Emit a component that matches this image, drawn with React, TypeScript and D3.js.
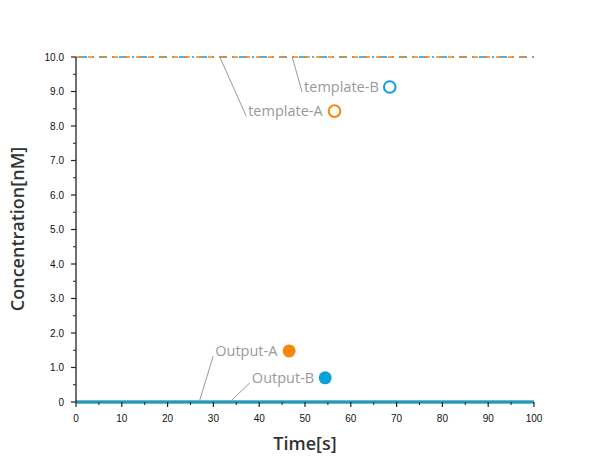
import React from 'react';
import * as d3 from 'd3';

// time points (s) and concentrations (nM)
const times = [0, 10, 20, 30, 40, 50, 60, 70, 80, 90, 100];
const templateA = [10, 10, 10, 10, 10, 10, 10, 10, 10, 10, 10];
const templateB = [10, 10, 10, 10, 10, 10, 10, 10, 10, 10, 10];
const outputA = [0, 0, 0, 0, 0, 0, 0, 0, 0, 0, 0];
const outputB = [0, 0, 0, 0, 0, 0, 0, 0, 0, 0, 0];

const xTicks = [0, 10, 20, 30, 40, 50, 60, 70, 80, 90, 100];
const yTicks = [0, 1, 2, 3, 4, 5, 6, 7, 8, 9, 10];

const ORANGE = '#f7850f';
const BLUE = '#0aa0d8';

const margin = { top: 57, right: 76, bottom: 58, left: 76 };
const width = 610 - margin.left - margin.right;
const height = 460 - margin.top - margin.bottom;

const x = d3.scaleLinear().domain([0, 100]).range([0, width]);
const y = d3.scaleLinear().domain([0, 10]).range([height, 0]);

const line = (vals: number[]) =>
  d3.line<number>().x((d, i) => x(times[i])).y(d => y(d))(vals) || '';

// labels: anchor on the curve (t, value), text position, marker
const labels = [
  { name: 'template-A', color: ORANGE, filled: false, at: [31.4, 10], tx: 37.6, ty: 8.43 },
  { name: 'template-B', color: BLUE, filled: false, at: [47.2, 10], tx: 49.8, ty: 9.13 },
  { name: 'Output-A', color: ORANGE, filled: true, at: [26.9, 0], tx: 30.4, ty: 1.48 },
  { name: 'Output-B', color: BLUE, filled: true, at: [33.6, 0], tx: 38.4, ty: 0.7 },
];

const labelFont = '"Open Sans", "Noto Sans", sans-serif';
const tickFont = '"Liberation Sans", Arial, sans-serif';

export default function App() {
  const minorX = d3.range(5, 100, 10);
  const minorY = d3.range(0.5, 10, 1);
  return (
    <svg width={610} height={460} style={{ position: 'absolute', left: 0, top: 0 }}>
      <g transform={`translate(${margin.left},${margin.top})`}>
        {/* series */}
        <path d={line(templateB)} fill="none" stroke={BLUE} strokeWidth={1.3} strokeDasharray="8,5,2,5" strokeDashoffset={-3} />
        <path d={line(templateA)} fill="none" stroke={ORANGE} strokeWidth={1.3} strokeDasharray="6,6" />
        <path d={line(outputA)} fill="none" stroke={ORANGE} strokeWidth={3} />
        <path d={line(outputB)} fill="none" stroke={BLUE} strokeWidth={3.2} />

        {/* y axis */}
        <line x1={0} x2={0} y1={0} y2={height} stroke="#222" strokeWidth={1.3} />
        {yTicks.map(t => (
          <g key={t} transform={`translate(0,${y(t)})`}>
            <line x1={-5} x2={0} stroke="#222" strokeWidth={1.2} />
            <text x={-12} dy="0.35em" textAnchor="end" fontSize={10} fontFamily={tickFont} fill="#111">
              {t === 0 ? '0' : t.toFixed(1)}
            </text>
          </g>
        ))}
        {minorY.map(t => (
          <line key={t} x1={-3} x2={0} y1={y(t)} y2={y(t)} stroke="#222" strokeWidth={1} />
        ))}

        {/* x axis */}
        {xTicks.map(t => (
          <g key={t} transform={`translate(${x(t)},${height})`}>
            <line y1={0} y2={5} stroke="#222" strokeWidth={1.2} />
            <text y={20} textAnchor="middle" fontSize={10} fontFamily={tickFont} fill="#111">{t}</text>
          </g>
        ))}
        {minorX.map(t => (
          <line key={t} x1={x(t)} x2={x(t)} y1={height} y2={height + 3} stroke="#222" strokeWidth={1} />
        ))}

        {/* labels */}
        {labels.map(l => {
          const ax = x(l.at[0]), ay = y(l.at[1]);
          const lx = x(l.tx), ly = y(l.ty);
          return (
            <g key={l.name}>
              <line x1={ax} y1={ay} x2={lx - 2} y2={ly + 5} stroke="#999" strokeWidth={1} />
              <text className="lbl" x={lx} y={ly} dy="0.35em" fontSize={14.5} fontFamily={labelFont} fill="#999">{l.name}</text>
            </g>
          );
        })}
      </g>
      <Markers />
      <text x={305} y={450} textAnchor="middle" fontSize={18} fontWeight={600} fontFamily={labelFont} fill="#333">Time[s]</text>
      <text transform="translate(24,229) rotate(-90)" textAnchor="middle" fontSize={18} fontWeight={600} fontFamily={labelFont} fill="#333">Concentration[nM]</text>
    </svg>
  );
}

// markers placed right after each label text
function Markers() {
  const ref = React.useRef<SVGGElement>(null);
  React.useEffect(() => {
    const g = d3.select(ref.current);
    g.selectAll('*').remove();
    const svg = ref.current!.ownerSVGElement!;
    const texts = Array.from(svg.querySelectorAll('text.lbl')) as SVGTextElement[];
    texts.forEach(t => {
      const l = labels.find(d => d.name === t.textContent)!;
      const b = t.getBBox();
      g.append('circle')
        .attr('cx', margin.left + b.x + b.width + 11)
        .attr('cy', margin.top + y(l.ty))
        .attr('r', l.filled ? 6.5 : 5.8)
        .attr('fill', l.filled ? l.color : 'none')
        .attr('stroke', l.color)
        .attr('stroke-width', l.filled ? 0 : 2);
    });
  }, []);
  return <g ref={ref} />;
}
